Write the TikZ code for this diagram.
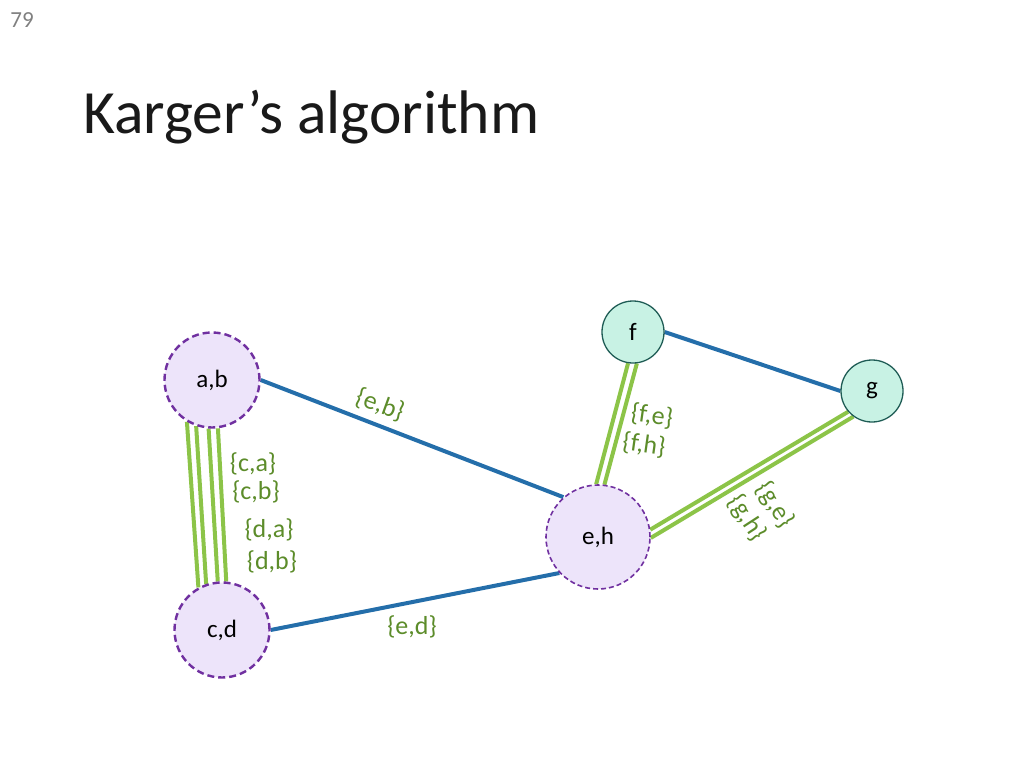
\documentclass[tikz,border=0pt]{standalone}
\usepackage{fontspec}
\setmainfont{Carlito}
\usetikzlibrary{backgrounds}
\definecolor{edgeblue}{RGB}{36,110,170}
\definecolor{edgegreen}{RGB}{140,196,72}
\definecolor{labgreen}{RGB}{92,140,42}
\definecolor{superpurple}{RGB}{112,48,160}
\definecolor{superfill}{RGB}{237,228,250}
\definecolor{plainfill}{RGB}{200,242,228}
\definecolor{plainline}{RGB}{31,92,85}
\begin{document}
\begin{tikzpicture}[x=1pt, y=-1pt,
  super/.style={circle, draw=superpurple, fill=superfill, line width=2.4pt,
    dash pattern=on 7pt off 4pt, inner sep=0pt, font=\fontsize{25}{30}\selectfont},
  plain/.style={circle, draw=plainline, fill=plainfill, line width=1.3pt,
    inner sep=0pt, minimum size=62pt, font=\fontsize{25}{30}\selectfont},
  blue edge/.style={draw=edgeblue, line width=4pt},
  green edge/.style={draw=edgegreen, line width=4pt},
  lab/.style={text=labgreen, font=\fontsize{26}{30}\selectfont, inner sep=0pt}]

  \useasboundingbox (0,0) rectangle (1024,768);

  \node[text=black!50, font=\fontsize{23}{27}\selectfont] (pagenum) at (22,20) {79};
  \node[anchor=base west, inner sep=0pt, text=black!90,
        font=\fontsize{61.5}{74}\selectfont] (title) at (83,133) {Karger’s algorithm};

  % vertices
  \node[super, minimum size=95pt] (ab) at (212,380) {a,b};
  \node[super, minimum size=95pt] (cd) at (222,630) {c,d};
  \node[super, minimum size=104pt, line width=1.6pt,
        dash pattern=on 5pt off 3pt] (eh) at (598,537) {e,h};
  \node[plain] (f) at (633,332) {f};
  \node[plain] (g) at (872,391) {g};

  % edges
  \begin{scope}[on background layer]
    \draw[blue edge] (ab.east) -- (eh.131);
    \draw[blue edge] (cd.east) -- (eh.223);
    \draw[blue edge] (f.east) -- (g.west);

    \draw[green edge] (ab.239) -- (cd.119);
    \draw[green edge] (ab.251) -- (cd.109);
    \draw[green edge] (ab.266) -- (cd.95);
    \draw[green edge] (ab.277) -- (cd.85);

    \draw[green edge] (f.261) -- (eh.92);
    \draw[green edge] (f.277) -- (eh.83);

    \draw[green edge] (g.221) -- (eh.8);
    \draw[green edge] (g.234) -- (eh.359);
  \end{scope}

  % labels
  \node[lab, rotate=-20] (leb) at (380,405) {\{e,b\}};
  \node[lab] (lca) at (253,464) {\{c,a\}};
  \node[lab] (lcb) at (256,492) {\{c,b\}};
  \node[lab] (lda) at (269,530) {\{d,a\}};
  \node[lab] (ldb) at (272,562) {\{d,b\}};
  \node[lab] (led) at (412,627) {\{e,d\}};
  \node[lab, rotate=-8] (lfe) at (652,416) {\{f,e\}};
  \node[lab, rotate=-8] (lfh) at (644,445) {\{f,h\}};
  \node[lab, rotate=-57] (lge) at (775,505) {\{g,e\}};
  \node[lab, rotate=-57] (lgh) at (747,518) {\{g,h\}};

\end{tikzpicture}
\end{document}
